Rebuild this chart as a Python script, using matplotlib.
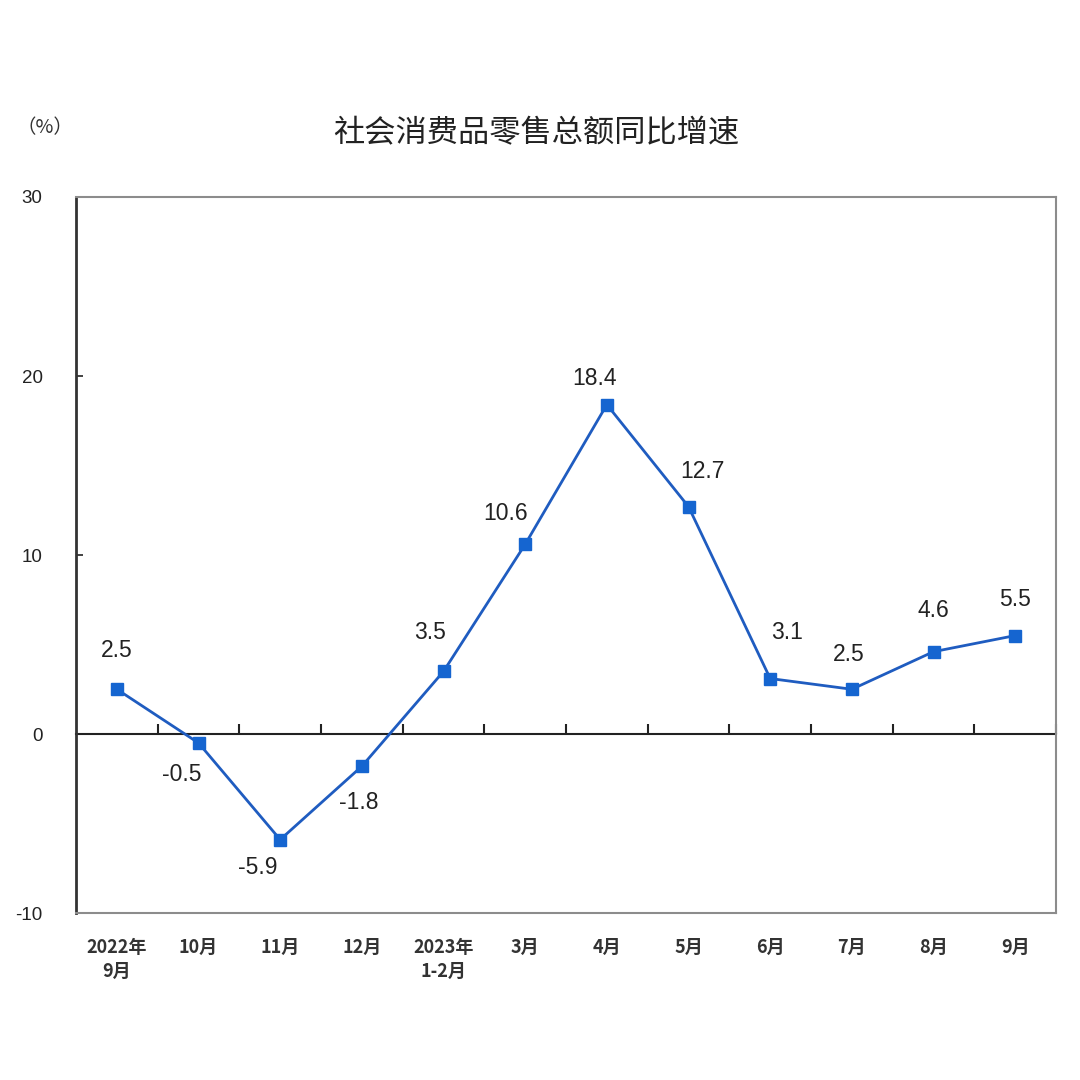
import matplotlib
matplotlib.use('Agg')
import matplotlib.pyplot as plt
import matplotlib.ticker as ticker

plt.rcParams['font.family'] = ['Liberation Sans', 'Noto Sans CJK SC', 'DejaVu Sans']
plt.rcParams['axes.unicode_minus'] = False

# 数据
months = ['2022年\n9月', '10月', '11月', '12月', '2023年\n1-2月', '3月', '4月',
          '5月', '6月', '7月', '8月', '9月']
growth = [2.5, -0.5, -5.9, -1.8, 3.5, 10.6, 18.4, 12.7, 3.1, 2.5, 4.6, 5.5]
value_labels = ['2.5', '-0.5', '-5.9', '-1.8', '3.5', '10.6', '18.4', '12.7', '3.1', '2.5', '4.6', '5.5']
y_ticks = [-10, 0, 10, 20, 30]

# 数据标签偏移 (points)
label_offsets = [(0, 28), (-12, -23), (-16, -20), (-2, -26), (-10, 28), (-14, 22),
                 (-9, 19), (10, 25), (12, 33), (-2, 25), (0, 30), (0, 26)]

line_color = '#1f5cc0'

fig = plt.figure(figsize=(10.8, 10.8), dpi=100)
ax = fig.add_axes([0.0704, 0.1546, 0.9074, 0.663])

x = list(range(len(months)))
ax.plot(x, growth, color=line_color, linewidth=2.0, marker='s', markersize=8,
        markerfacecolor='#1565d0', markeredgecolor='#1565d0', zorder=3)

for i, (v, t) in enumerate(zip(growth, value_labels)):
    ax.annotate(t, (i, v), xytext=label_offsets[i], textcoords='offset points',
                ha='center', va='center', fontsize=16.5, color='#222222')

ax.set_xlim(-0.5, len(months) - 0.5)
ax.set_ylim(-10, 30)
ax.set_yticks(y_ticks)
ax.tick_params(axis='y', direction='in', length=5, width=1.2, labelsize=13.5,
               pad=24, colors='#222222')

ax.set_xticks(x)
ax.set_xticklabels(months, fontsize=13, fontweight='bold', color='#333333',
                   family=['Noto Sans CJK SC', 'DejaVu Sans'], linespacing=1.3)
ax.tick_params(axis='x', length=0, pad=18)
for lab in ax.get_xticklabels():
    lab.set_verticalalignment('top')

# 边框
for s in ['top', 'right', 'bottom']:
    ax.spines[s].set_color('#8c8c8c')
    ax.spines[s].set_linewidth(1.5)
ax.spines['left'].set_color('#333333')
ax.spines['left'].set_linewidth(2)

# 零线及分类刻度
zero_axis = ax.secondary_xaxis(0.25)
zero_axis.spines['bottom'].set_color('#222222')
zero_axis.spines['bottom'].set_linewidth(1.5)
zero_axis.xaxis.set_major_locator(ticker.FixedLocator([i + 0.5 for i in x]))
zero_axis.tick_params(axis='x', direction='in', length=7, width=1.5,
                      labelbottom=False, colors='#222222')

fig.text(0.497, 0.877, '社会消费品零售总额同比增速', ha='center', va='center',
         fontsize=22.5, fontweight='medium', color='#222222',
         family=['Noto Sans CJK SC', 'DejaVu Sans'])
fig.text(0.042, 0.882, '（%）', ha='center', va='center', fontsize=14,
         color='#333333', family=['Noto Sans CJK SC', 'DejaVu Sans'])

fig.savefig('out.png', dpi=100, facecolor='white')
